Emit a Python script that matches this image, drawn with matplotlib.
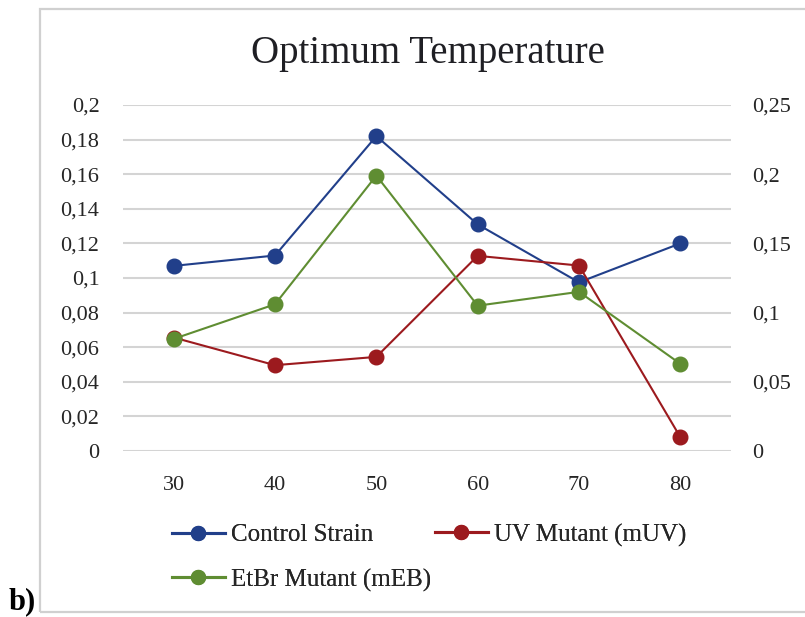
import matplotlib
matplotlib.use('Agg')
import matplotlib.pyplot as plt
from matplotlib.lines import Line2D
from matplotlib.patches import Rectangle

# data
temps = ['30', '40', '50', '60', '70', '80']
control = [0.107, 0.113, 0.182, 0.131, 0.0975, 0.120]
uv_mutant = [0.082, 0.062, 0.068, 0.141, 0.134, 0.010]
etbr_mutant = [0.081, 0.106, 0.199, 0.105, 0.115, 0.063]
left_ticks = [0, 0.02, 0.04, 0.06, 0.08, 0.1, 0.12, 0.14, 0.16, 0.18, 0.2]
right_ticks = [0, 0.05, 0.1, 0.15, 0.2, 0.25]
series_names = ['Control Strain', 'UV Mutant (mUV)', 'EtBr Mutant (mEB)']

blue = '#213F8A'
red = '#9C1A1E'
green = '#5F8D32'
grid_col = '#D4D4D4'

plt.rcParams['font.family'] = ['Liberation Serif', 'DejaVu Serif']


def fmt(v):
    return ('%g' % v).replace('.', ',')


fig = plt.figure(figsize=(8.05, 6.17), dpi=100)
# chart frame
fig.patches.append(Rectangle((40 / 805, 5 / 617), 1.0, 1 - 14 / 617,
                             transform=fig.transFigure, fill=False,
                             edgecolor='#D0D0D0', linewidth=1.6))

ax = fig.add_axes([123 / 805, 1 - 451 / 617, 608 / 805, 346 / 617])
ax2 = ax.twinx()
x = list(range(len(temps)))

ax.set_xlim(-0.5, len(temps) - 0.5)
ax.set_ylim(0, 0.2)
ax2.set_ylim(0, 0.25)
for t in left_ticks:
    ax.axhline(t, color=grid_col, linewidth=1.5, zorder=0)

ms = 10.5
lw = 1.5
ax.plot(x, control, color=blue, marker='o', markersize=ms, linewidth=lw, zorder=3)
ax2.plot(x, uv_mutant, color=red, marker='o', markersize=ms, linewidth=lw, zorder=3)
ax2.plot(x, etbr_mutant, color=green, marker='o', markersize=ms, linewidth=lw, zorder=3)

ax.set_xticks(x)
ax.set_xticklabels(temps)
ax.set_yticks(left_ticks)
ax.set_yticklabels([fmt(t) for t in left_ticks])
ax2.set_yticks(right_ticks)
ax2.set_yticklabels([fmt(t) for t in right_ticks])

for a in (ax, ax2):
    for s in a.spines.values():
        s.set_visible(False)
    a.tick_params(length=0, labelsize=16, colors='#262626')
ax.tick_params(axis='y', pad=17)
ax2.tick_params(axis='y', pad=15)
ax.tick_params(axis='x', pad=18)

fig.text(428 / 805, 1 - 54 / 617, 'Optimum Temperature', ha='center',
         va='center', fontsize=28, color='#1F1F24')

# legend entries placed like the Excel legend (two per row)
spots = [(172, 535), (435, 535), (172, 580)]
for name, col, (px, py) in zip(series_names, (blue, red, green), spots):
    h = Line2D([], [], color=col, marker='o', markersize=10, linewidth=2.2)
    leg = fig.legend([h], [name], loc='center left',
                     bbox_to_anchor=(px / 805, 1 - py / 617), frameon=False,
                     fontsize=18, handlelength=2.1, handletextpad=0.25,
                     borderpad=0, borderaxespad=0, labelcolor='#262626')
    fig.add_artist(leg)

fig.text(9 / 805, 1 - 602 / 617, 'b)', fontsize=22, fontweight='bold',
         va='center', ha='left')

fig.savefig('out.png', dpi=100)
